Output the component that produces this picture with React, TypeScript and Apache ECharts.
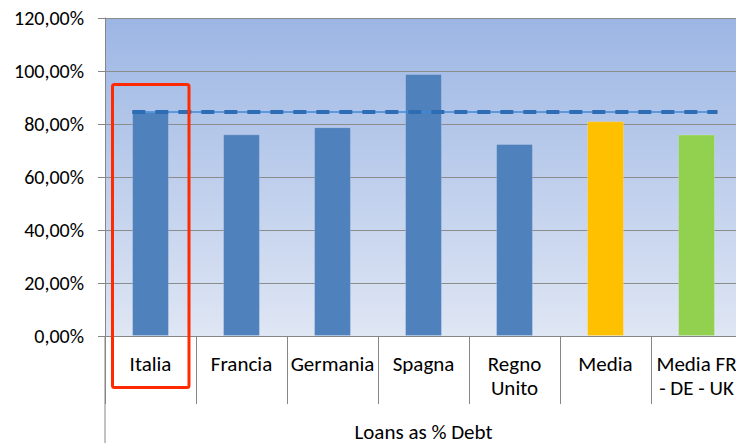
import React, { useEffect, useRef } from "react";
import * as echarts from "echarts";

const categories = ["Italia", "Francia", "Germania", "Spagna", "Regno\nUnito", "Media", "Media FR\n- DE - UK"];
const values = [84.5, 76.1, 78.8, 98.9, 72.5, 81.0, 76.0];
const barColors = ["#4f81bd", "#4f81bd", "#4f81bd", "#4f81bd", "#4f81bd", "#ffc000", "#92d050"];
const averageLine = 84.5;
const yTicks = { min: 0, max: 120, interval: 20 };
const axisTitle = "Loans as % Debt";

const FONT = "Carlito, 'Liberation Sans', Arial, sans-serif";

export default function App() {
  const ref = useRef<HTMLDivElement>(null);
  useEffect(() => {
    if (!ref.current) return;
    const chart = echarts.init(ref.current, undefined, { renderer: "svg" });
    chart.setOption({
      animation: false,
      grid: {
        left: 105,
        top: 18,
        right: -6,
        bottom: 107,
        outerBoundsMode: "none",
        containLabel: false,
        show: true,
        borderWidth: 0,
        backgroundColor: new echarts.graphic.LinearGradient(0, 0, 0, 1, [
          { offset: 0, color: "#9cb6e4" },
          { offset: 1, color: "#dfe6f4" },
        ]),
      },
      xAxis: {
        type: "category",
        data: categories,
        boundaryGap: true,
        axisLine: { show: true, lineStyle: { color: "#868686", width: 1 } },
        axisTick: { show: true, interval: 0, length: 68, lineStyle: { color: "#868686" } },
        axisLabel: {
          interval: 0,
          margin: 16,
          color: "#000",
          fontFamily: FONT,
          fontSize: 21,
          lineHeight: 24,
        },
        name: axisTitle,
        nameLocation: "middle",
        nameGap: 85,
        nameTextStyle: { color: "#000", fontFamily: FONT, fontSize: 21 },
      },
      yAxis: {
        type: "value",
        min: yTicks.min,
        max: yTicks.max,
        interval: yTicks.interval,
        axisLine: { show: true, lineStyle: { color: "#868686", width: 1 } },
        axisTick: { show: true, length: 7, inside: false, lineStyle: { color: "#868686" } },
        axisLabel: {
          margin: 21,
          color: "#000",
          fontFamily: FONT,
          fontSize: 20,
          formatter: (v: number) => v.toFixed(2).replace(".", ",") + "%",
        },
        splitLine: { show: true, lineStyle: { color: "#8c8c8c", width: 1 } },
      },
      series: [
        {
          type: "bar",
          barWidth: "40.5%",
          data: values.map((v, i) => ({
            value: v,
            itemStyle: { color: barColors[i], borderColor: "rgba(255,255,255,0.18)", borderWidth: 1 },
          })),
          z: 2,
        },
        {
          type: "custom",
          z: 3,
          data: [[0, averageLine]],
          renderItem: (params: any, api: any) => {
            const v = api.value(1);
            const bw = api.size([1, 0])[0];
            const p0 = api.coord([0, v]);
            const p1 = api.coord([categories.length - 1, v]);
            const x1 = p0[0] - bw * 0.2;
            const x2 = p1[0] + bw * 0.23;
            return {
              type: "group",
              children: [
                {
                  type: "line",
                  shape: { x1, y1: p0[1], x2, y2: p0[1] },
                  style: { stroke: "#3f8ad8", lineWidth: 1.5 },
                },
                {
                  type: "line",
                  shape: { x1, y1: p0[1], x2, y2: p0[1] },
                  style: { stroke: "#2e6db3", lineWidth: 4, lineDash: [13, 10] },
                },
              ],
            };
          },
        },
      ],
      graphic: [
        {
          type: "line",
          shape: { x1: 105, y1: 336, x2: 105, y2: 443 },
          style: { stroke: "#868686", lineWidth: 1 },
          z: 10,
        },
        {
          type: "rect",
          shape: { x: 112.5, y: 84.5, width: 76.5, height: 303, r: 2 },
          style: { fill: "none", stroke: "#ff2a00", lineWidth: 3 },
          z: 20,
        },
      ],
    });
    return () => chart.dispose();
  }, []);
  return (
    <div
      ref={ref}
      style={{ position: "fixed", left: 0, top: 0, width: 736, height: 443, background: "#fff" }}
    />
  );
}
